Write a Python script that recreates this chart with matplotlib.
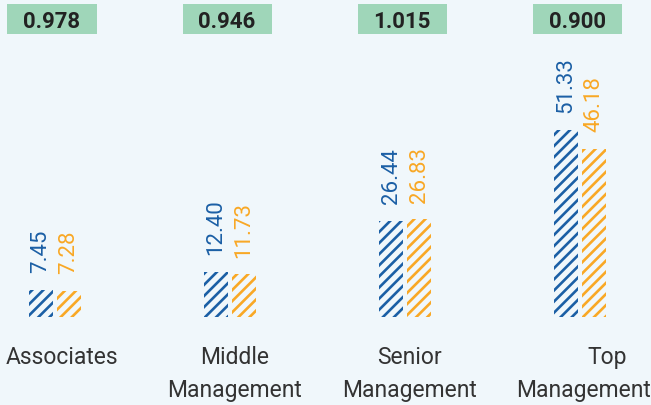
import numpy as np
import matplotlib
matplotlib.use("Agg")
import matplotlib.pyplot as plt

# pay ratio per level, with two series of hourly values
categories = ["Associates", "Middle\nManagement", "Senior\nManagement", "Top\nManagement"]
ratios = ["0.978", "0.946", "1.015", "0.900"]
series_a = [7.45, 12.40, 26.44, 51.33]
series_b = [7.28, 11.73, 26.83, 46.18]

BG = "#f0f7fb"
BLUE = "#1b5fa5"
ORANGE = "#f9a825"
GREEN = "#9fd6b9"
TEXT = "#333333"

plt.rcParams["font.family"] = ["Roboto", "DejaVu Sans"]
plt.rcParams["hatch.linewidth"] = 1.9

W, H = 651, 405
fig = plt.figure(figsize=(W / 100, H / 100), dpi=100, facecolor=BG)
ax = fig.add_axes([0, 0, 1, 1])
ax.set_facecolor(BG)

# layout in pixels: group spacing and baseline, converted to data units
px_unit = 175.0          # pixels per group
py_unit = 3.64           # pixels per value unit
x0_px, base_px = 55, 317
ax.set_xlim(-x0_px / px_unit, (W - x0_px) / px_unit)
ax.set_ylim(-(H - base_px) / py_unit, base_px / py_unit)
ax.axis("off")

x = np.arange(len(categories))
bw = 24 / px_unit
off = 14 / px_unit

ax.bar(x - off, series_a, bw, color="none", edgecolor=BLUE, hatch="///", linewidth=0)
ax.bar(x + off, series_b, bw, color="none", edgecolor=ORANGE, hatch="///", linewidth=0)

for xi, a, b in zip(x, series_a, series_b):
    for xx, v, c in ((xi - off, a, BLUE), (xi + off, b, ORANGE)):
        ax.annotate(f"{v:.2f}", (xx, v), xytext=(0, 12), textcoords="offset points",
                    rotation=90, ha="center", va="bottom", color=c,
                    fontsize=16, fontweight="normal")

# ratio badges along the top
box_top = (base_px - 4) / py_unit
box_bot = (base_px - 34) / py_unit
box_w = 89 / px_unit
for xi, r in zip(x, ratios):
    cx = xi - 3 / px_unit
    ax.bar(cx, box_top - box_bot, box_w, bottom=box_bot, color=GREEN, linewidth=0)
    ax.text(cx, (box_top + box_bot) / 2, r, ha="center", va="center_baseline",
            fontsize=16, fontweight="bold", color="#222222")

# category labels, each line centred and kept inside the canvas
label_x = [62, 235, 410, 607]
fig.canvas.draw()
renderer = fig.canvas.get_renderer()
for lx, lab in zip(label_x, categories):
    for i, line in enumerate(lab.split("\n")):
        t = fig.text(lx / W, 1 - (364 + 33 * i) / H, line, ha="center", va="baseline",
                     fontsize=16.5, color=TEXT)
        bb = t.get_window_extent(renderer)
        if bb.x1 > W:
            t.set_x((lx - (bb.x1 - W)) / W)

fig.savefig("out.png", dpi=100, facecolor=BG)
